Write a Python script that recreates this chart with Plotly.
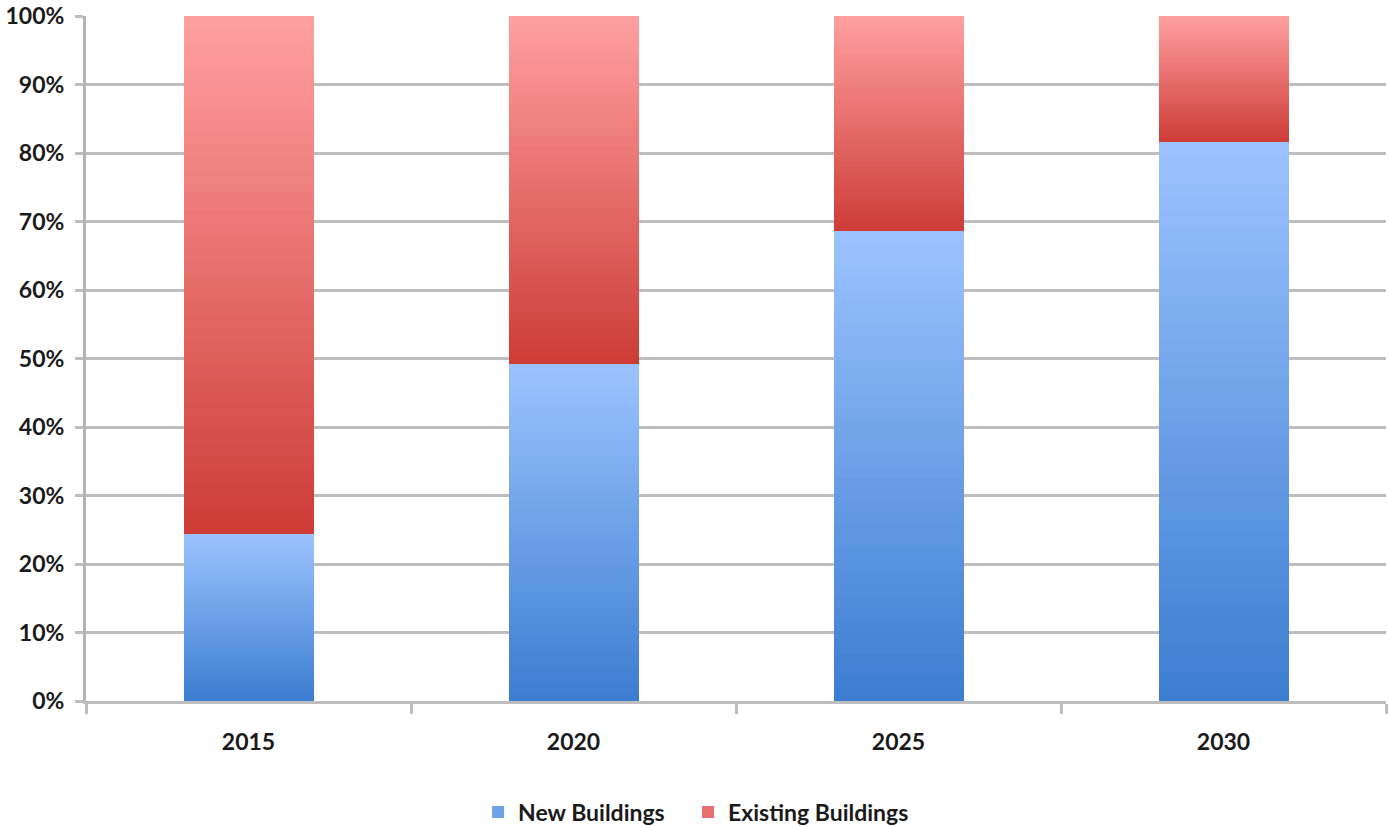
import plotly.graph_objects as go

# ---- data ----
years = ["2015", "2020", "2025", "2030"]
new_buildings = [24.4, 49.2, 68.6, 81.6]        # % share
existing_buildings = [75.6, 50.8, 31.4, 18.4]   # % share
series_names = ["New Buildings", "Existing Buildings"]

# ---- style ----
N_SLICES = 40  # vertical slices used to render the gradient fill
grad = {
    "New Buildings": ((60, 125, 208), (156, 195, 255)),
    "Existing Buildings": ((205, 60, 55), (255, 160, 160)),
}
legend_ids = {"New Buildings": "legend", "Existing Buildings": "legend2"}


def mix(c0, c1, t):
    return "rgb(%d,%d,%d)" % tuple(round(a + (b - a) * t) for a, b in zip(c0, c1))


fig = go.Figure()
for name, values in zip(series_names, [new_buildings, existing_buildings]):
    dark, light = grad[name]
    for k in range(N_SLICES):
        t = (k + 0.5) / N_SLICES
        fig.add_trace(go.Bar(
            x=years,
            y=[v / N_SLICES for v in values],
            name=name,
            legendgroup=name,
            legend=legend_ids[name],
            showlegend=(k == N_SLICES // 2),
            marker=dict(color=mix(dark, light, t), line=dict(width=0)),
            hoverinfo="skip",
        ))

font_family = "Lato, 'Open Sans', sans-serif"
FS = 23
legend_common = dict(
    orientation="h",
    xanchor="left",
    yref="container",
    y=0.018, yanchor="middle",
    font=dict(family=font_family, size=FS, color="#1a1a1a", weight="bold"),
    itemwidth=30,
    borderwidth=0,
    bgcolor="rgba(0,0,0,0)",
)
fig.update_layout(
    barmode="stack",
    bargap=0.6,
    width=1389,
    height=827,
    margin=dict(l=86, r=3, t=16, b=126, autoexpand=False),
    paper_bgcolor="white",
    plot_bgcolor="white",
    font=dict(family=font_family, size=FS, color="#1a1a1a"),
    legend=dict(x=0.3016, **legend_common),
    legend2=dict(x=0.4631, **legend_common),
)
fig.update_yaxes(
    range=[0, 100],
    dtick=10,
    ticksuffix="%",
    showgrid=True,
    gridcolor="#BEBEBE",
    gridwidth=3,
    showline=True,
    linecolor="#B4B4B4",
    linewidth=3,
    ticks="outside",
    ticklen=8,
    tickwidth=3,
    tickcolor="#BEBEBE",
    ticklabelstandoff=6,
    tickfont=dict(family=font_family, size=FS, color="#1a1a1a", weight="bold"),
    zeroline=False,
)
fig.update_xaxes(
    type="category",
    showline=True,
    linecolor="#BEBEBE",
    linewidth=3,
    ticks="outside",
    tickson="boundaries",
    ticklen=10,
    tickwidth=3,
    tickcolor="#BEBEBE",
    ticklabelstandoff=18,
    tickfont=dict(family=font_family, size=FS, color="#1a1a1a", weight="bold"),
    showgrid=False,
)

fig.write_html("out.html")
